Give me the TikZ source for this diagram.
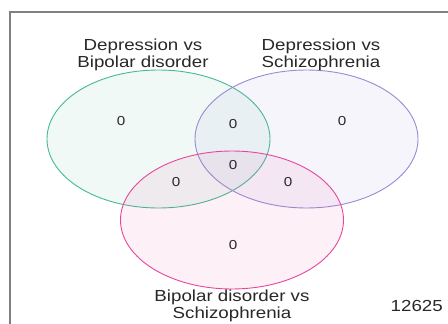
\documentclass[tikz,border=0pt]{standalone}
\usepackage{fontspec}
\setmainfont{Liberation Sans}
\newfontfamily\widesans[FakeStretch=1.17]{Liberation Sans}
\usepackage{xcolor}
\usepackage{tikz}
\usetikzlibrary{positioning,shapes.geometric}
\definecolor{framegrey}{RGB}{128,128,128}
\definecolor{textgrey}{RGB}{40,40,40}
\definecolor{setgreen}{RGB}{70,185,150}
\definecolor{setpurple}{RGB}{150,140,210}
\definecolor{setpink}{RGB}{232,70,155}
\tikzset{
  venn/.style={ellipse,draw,line width=0.9pt,fill opacity=0.08,
    minimum width=223pt,minimum height=138pt,inner sep=0pt},
  greenset/.style={venn,draw=setgreen,fill=setgreen},
  purpleset/.style={venn,draw=setpurple,fill=setpurple},
  pinkset/.style={venn,draw=setpink,fill=setpink},
  setlabel/.style={font=\widesans\fontsize{16}{16.5}\selectfont,text=textgrey,
    align=center,inner sep=0pt},
  count/.style={font=\widesans\fontsize{13}{14}\selectfont,text=textgrey,inner sep=0pt}
}

\begin{document}
\begin{tikzpicture}[x=1pt,y=-1pt]
  \useasboundingbox (0,0) rectangle (448,324);
  \fill[white] (0,0) rectangle (448,324);
  \draw[framegrey,line width=1.3pt] (10,330) -- (10,12) -- (455,12);
  % the three sets
  \node[greenset] (dbd) at (158.5,139) {};
  \node[purpleset] (dsz) at (306.5,139) {};
  \node[pinkset] (bsz) at (232,220) {};
  % set names
  \node[setlabel] (dbdname) at (143,55) {Depression vs\\Bipolar disorder};
  \node[setlabel] (dszname) at (321,55) {Depression vs\\Schizophrenia};
  \node[setlabel] (bszname) at (232,306) {Bipolar disorder vs\\Schizophrenia};
  \node[setlabel,anchor=east] (total) at (443,306) {12625};
  % region counts
  \node[count] (onlydbd) at (121,121) {0};
  \node[count] (onlydsz) at (342,121) {0};
  \node[count] (onlybsz) at (233,245) {0};
  \node[count] (dbddsz) at (233,124) {0};
  \node[count] (dbdbsz) at (176,182) {0};
  \node[count] (dszbsz) at (288,182) {0};
  \node[count] (allthree) at (233,165) {0};
\end{tikzpicture}
\end{document}
